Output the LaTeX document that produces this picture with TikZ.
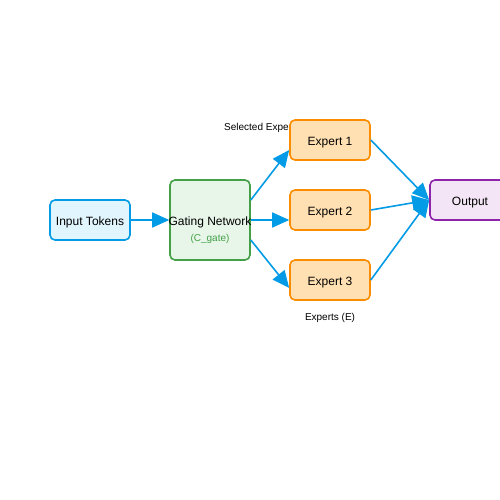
\documentclass[tikz,border=0pt]{standalone}
\usepackage{fontspec}
\setmainfont{Liberation Sans}
\usetikzlibrary{arrows.meta}
\definecolor{flowblue}{HTML}{039BE5}
\definecolor{inblue}{HTML}{E1F5FE}
\definecolor{gatefill}{HTML}{E8F5E9}
\definecolor{gategreen}{HTML}{43A047}
\definecolor{expfill}{HTML}{FFE0B2}
\definecolor{exporange}{HTML}{FB8C00}
\definecolor{outfill}{HTML}{F3E5F5}
\definecolor{outpurple}{HTML}{8E24AA}

\begin{document}
\begin{tikzpicture}[x=1pt,y=-1pt,font=\fontsize{12}{14}\selectfont,
  box/.style={draw,line width=1.6pt,rounded corners=5pt,minimum width=80pt,minimum height=40pt,inner sep=0pt,text height=10.6pt,text depth=0pt},
  flow/.style={draw=flowblue,line width=1.6pt,-{Triangle[length=17pt,width=15pt]}},
  note/.style={font=\fontsize{10}{12}\selectfont,inner sep=0pt,text height=9pt,text depth=0pt}]
\useasboundingbox (0,0) rectangle (500,500);
\node[note,anchor=west] (sel) at (224,126) {Selected Experts};
\node[box,draw=flowblue,fill=inblue] (input) at (90,220) {Input Tokens};
\node[box,draw=gategreen,fill=gatefill,minimum height=80pt] (gate) at (210,220) {};
\node[inner sep=0pt,text height=10.6pt,text depth=0pt] (gatetext) at (210,220) {Gating Network};
\node[note,text=gategreen] (cgate) at (210,237) {(C\_gate)};
\node[box,draw=exporange,fill=expfill] (exp1) at (330,140) {Expert 1};
\node[box,draw=exporange,fill=expfill] (exp2) at (330,210) {Expert 2};
\node[box,draw=exporange,fill=expfill] (exp3) at (330,280) {Expert 3};
\node[note] (experts) at (330,316) {Experts (E)};
\node[box,draw=outpurple,fill=outfill] (output) at (470,200) {Output};
\draw[flow] (input.east)--(gate.west);
\draw[flow] ([yshift=20pt]gate.east)--([yshift=-10pt]exp1.west);
\draw[flow] (gate.east)--([yshift=-10pt]exp2.west);
\draw[flow] ([yshift=-20pt]gate.east)--([yshift=-8pt]exp3.west);
\draw[flow] (exp1.east)--(output.west);
\draw[flow] (exp2.east)--(output.west);
\draw[flow] (exp3.east)--(output.west);
\end{tikzpicture}
\end{document}
